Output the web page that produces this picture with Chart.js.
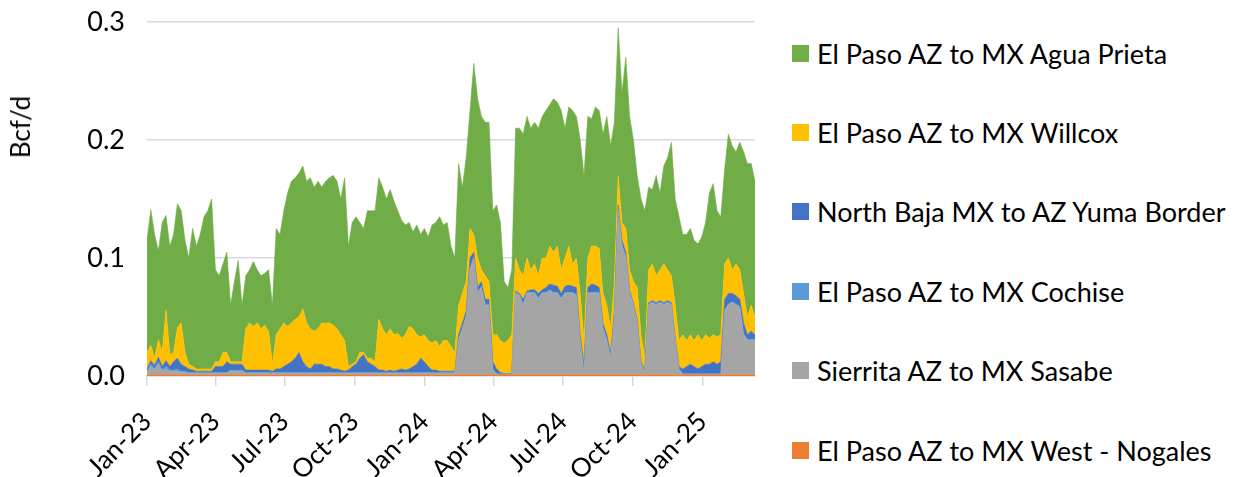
<!DOCTYPE html>
<html><head><meta charset="utf-8">
<script src="https://cdn.jsdelivr.net/npm/chart.js@4.4.1/dist/chart.umd.min.js"></script>
<style>
html,body{margin:0;padding:0;background:#fff;}
#wrap{position:relative;width:1238px;height:477px;overflow:hidden;font-family:Lato,"Open Sans",sans-serif;color:#000;}
#cv{position:absolute;left:0;top:0;}
#ytitle{position:absolute;left:20px;top:127px;transform:translate(-50%,-50%) rotate(-90deg);font-size:26px;white-space:nowrap;line-height:1;}
.li{position:absolute;left:792px;height:0;display:flex;align-items:center;}
.li .bx{width:17px;height:17px;margin-right:8px;flex:none;}
.li .tx{font-size:27px;white-space:nowrap;line-height:1;}
</style></head>
<body><div id="wrap"><canvas id="cv" width="770" height="477"></canvas><div id="ytitle">Bcf/d</div><div id="legend"></div></div>
<script>
// x positions: days since 2023-01-01 (5-day samples)
const days = [0,5,10,15,20,25,30,35,40,45,50,55,60,65,70,75,80,85,90,95,
100,105,110,115,120,125,130,135,140,145,150,155,160,165,170,175,180,185,190,195,
200,205,210,215,220,225,230,235,240,245,250,255,260,265,270,275,280,285,290,295,
300,305,310,315,320,325,330,335,340,345,350,355,360,365,370,375,380,385,390,395,
400,405,410,415,420,425,430,435,440,445,450,455,460,465,470,475,480,485,490,495,
500,505,510,515,520,525,530,535,540,545,550,555,560,565,570,575,580,585,590,595,
600,605,610,615,620,625,630,635,640,645,650,655,660,665,670,675,680,685,690,695,
700,705,710,715,720,725,730,735,740,745,750,755,760,765,770,775,780,785,790,795,
800];
const tickDays = [0,90,181,273,365,456,547,639,731];
const tickLabels = ['Jan-23','Apr-23','Jul-23','Oct-23','Jan-24','Apr-24','Jul-24','Oct-24','Jan-25'];

// Bcf/d
const nogales = [.001,.001,.001,.001,.001,.001,.001,.001,.001,.001,
.001,.001,.001,.001,.001,.001,.001,.001,.001,.001,
.001,.001,.001,.001,.001,.001,.001,.001,.001,.001,
.001,.001,.001,.001,.001,.001,.001,.001,.001,.001,
.001,.001,.001,.001,.001,.001,.001,.001,.001,.001,
.001,.001,.001,.001,.001,.001,.001,.001,.001,.001,
.001,.001,.001,.001,.001,.001,.001,.001,.001,.001,
.001,.001,.001,.001,.001,.001,.001,.001,.001,.001,
.001,.001,.001,.001,.001,.001,.001,.001,.001,.001,
.001,.001,.001,.001,.001,.001,.001,.001,.001,.001,
.001,.001,.001,.001,.001,.001,.001,.001,.001,.001,
.001,.001,.001,.001,.001,.001,.001,.001,.001,.001,
.001,.001,.001,.001,.001,.001,.001,.001,.001,.001,
.001,.001,.001,.001,.001,.001,.001,.001,.001,.001,
.001,.001,.001,.001,.001,.001,.001,.001,.001,.001,
.001,.001,.001,.001,.001,.001,.001,.001,.001,.001,
.001];
const sierrita = [.002,.007,.004,.009,.003,.005,.003,.003,.003,.002,
.002,.001,.001,.001,.001,.001,.001,.001,.001,.001,
.001,.001,.003,.003,.003,.003,.001,.001,.001,.001,
.001,.001,.001,.001,.001,.001,.001,.001,.001,.001,
.001,.001,.001,.001,.001,.001,.001,.001,.001,.001,
.001,.001,.001,.001,.001,.001,.001,.001,.001,.001,
.001,.001,.001,.001,.001,.001,.001,.001,.001,.001,
.001,.001,.001,.001,.001,.001,.001,.001,.001,.001,
.001,.001,.029,.039,.049,.089,.099,.069,.074,.059,
.059,.004,0,0,0,0,0,.069,.067,.059,
.069,.069,.069,.064,.069,.069,.071,.069,.069,.064,
.069,.069,.069,.067,.029,.001,.069,.069,.069,.069,
.039,.029,.014,.049,.139,.109,.099,.069,.059,.044,
.009,.002,.059,.061,.059,.061,.059,.061,.059,.029,
.004,0,0,0,0,0,0,0,0,0,
0,0,.054,.059,.061,.059,.057,.034,.029,.029,
.029];
const cochise = [.001,.002,.001,.002,.001,.002,.001,.001,.002,.001,
.001,.001,.001,.001,.001,.001,.001,.001,.001,.001,
.001,.001,.001,.001,.001,.001,.001,.001,.001,.001,
.001,.001,.001,.001,.001,.001,.001,.001,.001,.001,
.001,.001,.001,.001,.001,.001,.001,.001,.001,.001,
.001,.001,.001,.001,.001,.001,.001,.001,.001,.001,
.001,.001,.001,.001,.001,.001,.001,.001,.001,.001,
.001,.001,.001,.001,.001,.001,.001,.001,.001,.001,
.001,.001,.001,.001,.001,.001,.001,.001,.001,.001,
.001,.001,.001,.001,.001,.001,.001,.001,.001,.001,
.001,.001,.001,.001,.001,.001,.001,.001,.001,.001,
.001,.001,.001,.001,.001,.001,.001,.001,.001,.001,
.001,.001,.001,.001,.001,.001,.001,.001,.001,.001,
.001,.001,.001,.001,.001,.001,.001,.001,.001,.001,
.001,.001,.001,.001,.001,.001,.001,.001,.001,.001,
.001,.001,.001,.001,.001,.001,.001,.001,.001,.001,
.001];
const baja = [.002,.003,.003,.004,.003,.005,.003,.007,.009,.006,
.004,.003,.002,.001,.001,.001,.001,.001,.005,.005,
.005,.009,.005,.005,.005,.005,.002,.002,.002,.002,
.002,.002,.002,.001,.003,.003,.005,.007,.009,.012,
.017,.009,.005,.003,.007,.007,.007,.005,.005,.003,
.003,.002,.001,.002,.005,.007,.012,.015,.009,.007,
.005,.002,.002,.001,.002,.001,.002,.003,.002,.003,
.005,.007,.012,.009,.005,.002,.002,.001,.001,.001,
.001,.001,.004,.004,.004,.009,.004,.004,.004,.004,
.004,.006,.004,.001,0,0,0,.001,.001,.004,
.001,.002,.002,.004,.002,.004,.005,.006,.005,.004,
.005,.006,.005,.006,.004,.007,.004,.007,.006,.004,
.004,.004,.004,.004,.004,.004,.004,.002,.001,.002,
.001,.001,.001,.001,.001,.001,.001,.001,.001,.001,
.002,.004,.006,.008,.006,.004,.006,.008,.008,.010,
.008,.010,.009,.009,.007,.007,.006,.009,.004,.007,
.004];
const willcox = [.014,.013,.006,.015,.012,.043,.010,.008,.026,.035,
.012,.004,.003,.002,.002,.002,.002,.002,.004,.004,
.012,.008,.002,.002,.002,.002,.035,.040,.037,.040,
.035,.038,.033,.006,.029,.034,.037,.032,.033,.033,
.030,.045,.037,.034,.028,.030,.035,.037,.037,.037,
.034,.030,.026,.003,.002,.002,.005,.002,.003,.005,
.004,.043,.035,.031,.035,.031,.031,.026,.030,.036,
.032,.025,.018,.023,.022,.023,.025,.021,.026,.026,
.021,.016,.025,.025,.025,.025,.015,.025,.010,.020,
.015,.023,.029,.027,.026,.028,.033,.028,.020,.020,
.028,.017,.022,.015,.027,.025,.032,.028,.034,.020,
.024,.033,.019,.025,.035,.020,.025,.032,.033,.033,
.025,.025,.020,.025,.025,.015,.020,.017,.018,.027,
.023,.010,.028,.031,.023,.026,.033,.026,.023,.028,
.022,.029,.022,.025,.022,.029,.022,.025,.022,.023,
.023,.023,.030,.030,.020,.027,.025,.025,.015,.022,
.015];
const agua = [.095,.115,.105,.075,.110,.080,.092,.100,.105,.095,
.095,.090,.117,.104,.114,.129,.134,.144,.078,.073,
.075,.085,.048,.068,.086,.048,.045,.045,.055,.045,
.045,.044,.052,.050,.090,.080,.095,.113,.120,.120,
.122,.121,.120,.128,.122,.125,.115,.120,.123,.127,
.125,.115,.138,.102,.120,.123,.110,.105,.125,.125,
.128,.120,.120,.115,.118,.113,.104,.100,.093,.088,
.082,.093,.087,.090,.088,.100,.100,.110,.098,.100,
.085,.080,.120,.090,.105,.100,.145,.135,.130,.130,
.135,.105,.110,.100,.052,.045,.055,.110,.120,.120,
.120,.120,.120,.125,.120,.125,.120,.130,.122,.135,
.110,.118,.130,.120,.130,.140,.120,.108,.118,.117,
.135,.160,.155,.135,.125,.110,.145,.130,.120,.095,
.115,.125,.070,.063,.085,.065,.083,.095,.113,.090,
.105,.085,.090,.090,.085,.077,.088,.095,.123,.128,
.107,.100,.080,.105,.105,.095,.108,.120,.130,.120,
.115];

// legend order (top to bottom)
const seriesNames = ['El Paso AZ to MX Agua Prieta','El Paso AZ to MX Willcox','North Baja MX to AZ Yuma Border','El Paso AZ to MX Cochise','Sierrita AZ to MX Sasabe','El Paso AZ to MX West - Nogales'];
const seriesData = [agua, willcox, baja, cochise, sierrita, nogales];
const seriesColors = ['#70AD47','#FFC000','#4472C4','#5B9BD5','#A5A5A5','#ED7D31'];

const FONT = 'Lato';
const datasets = [];
for (let k = seriesNames.length - 1; k >= 0; k--) {
  const vals = seriesData[k];
  datasets.push({
    label: seriesNames[k],
    data: days.map((d, i) => ({x: d, y: vals[i]})),
    backgroundColor: seriesColors[k],
    borderColor: seriesColors[k],
    borderWidth: 0.6,
    pointRadius: 0,
    tension: 0,
    fill: datasets.length === 0 ? 'origin' : '-1'
  });
}

new Chart(document.getElementById('cv'), {
  type: 'line',
  data: {datasets},
  options: {
    responsive: false,
    animation: false,
    devicePixelRatio: 1,
    layout: {padding: {top: 22, right: 15, left: 0, bottom: 0}},
    plugins: {legend: {display: false}, tooltip: {enabled: false}},
    scales: {
      x: {
        type: 'linear', min: 0, max: 800,
        afterBuildTicks: s => { s.ticks = tickDays.map(v => ({value: v})); },
        afterFit: s => { s.height = 101; s.paddingLeft = 0; s.paddingRight = 0; s.paddingTop = 0; s.paddingBottom = 0; },
        ticks: {
          autoSkip: false, minRotation: 45, maxRotation: 45, padding: 20, labelOffset: 0,
          font: {family: FONT, size: 26}, color: '#000',
          callback: v => { const j = tickDays.indexOf(v); return j < 0 ? '' : tickLabels[j]; }
        },
        grid: {drawOnChartArea: false, drawTicks: true, tickLength: 10, color: '#d9d9d9', lineWidth: 1.5},
        border: {display: true, color: '#d9d9d9', width: 1.5}
      },
      y: {
        stacked: true, min: 0, max: 0.3,
        afterFit: s => { s.width = 147; s.paddingTop = 0; s.paddingBottom = 0; s.paddingLeft = 0; s.paddingRight = 0; },
        ticks: {stepSize: 0.1, padding: 22, font: {family: FONT, size: 27}, color: '#000', callback: v => v.toFixed(1)},
        grid: {color: '#d9d9d9', lineWidth: 1.5, drawTicks: false},
        border: {display: false}
      }
    }
  }
});

// legend (HTML, real text)
const lg = document.getElementById('legend');
seriesNames.forEach((n, k) => {
  const d = document.createElement('div');
  d.className = 'li';
  d.style.top = (53 + k * 79.4) + 'px';
  d.innerHTML = '<span class="bx" style="background:' + seriesColors[k] + '"></span><span class="tx"></span>';
  d.querySelector('.tx').textContent = n;
  lg.appendChild(d);
});
</script>
</body></html>
